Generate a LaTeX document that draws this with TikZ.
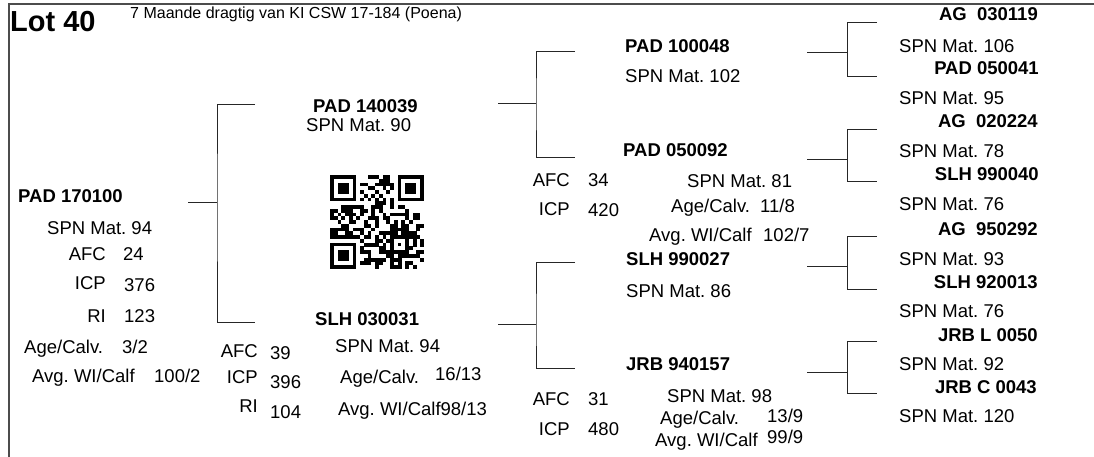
\documentclass[tikz,border=0pt]{standalone}
\usepackage{fontspec}
\setmainfont{Liberation Sans}
\frenchspacing
\begin{document}
\frenchspacing
\begin{tikzpicture}[x=1pt,y=-1pt,
  t/.style={anchor=base west, inner sep=0pt, font=\fontsize{18.5}{20}\selectfont},
  tr/.style={t, anchor=base east},
  tb/.style={t, font=\fontsize{18.5}{20}\selectfont\bfseries},
  tbr/.style={tb, anchor=base east},
  ln/.style={line width=1pt, draw=black!85},
  frame/.style={line width=1.4pt, draw=black!70}]
\useasboundingbox (0,0) rectangle (1094,457);
% frame
\coordinate (fb) at (9,457); \coordinate (fc) at (9,4); \coordinate (fr) at (1094,4);
\draw[frame] (fb) -- (fc) -- (fr);
% header
\node[tb, font=\fontsize{29}{30}\selectfont\bfseries] (lot) at (10,31.5) {Lot 40};
\node[t, font=\fontsize{16}{17}\selectfont] (sub) at (130,19) {7 Maande dragtig van KI CSW 17-184 (Poena)};
% generation 0
\node[tb] (a) at (18,203) {PAD 170100};
\node[t] (a1) at (47,234) {SPN Mat. 94};
\node[tr] (a2) at (106,260) {AFC}; \node[t] (a2v) at (123,260) {24};
\node[tr] (a3) at (106,289) {ICP}; \node[t] (a3v) at (124,291) {376};
\node[tr] (a4) at (106,322) {RI};  \node[t] (a4v) at (124,322) {123};
\node[t] (a5) at (24,353) {Age/Calv.}; \node[t] (a5v) at (122,353) {3/2};
\node[t] (a6) at (32,382) {Avg. WI/Calf}; \node[t] (a6v) at (154,382) {100/2};
% generation 1
\node[tb] (b) at (313,113) {PAD 140039};
\node[t] (b1) at (306,132) {SPN Mat. 90};
\node[tb] (c) at (315,325) {SLH 030031};
\node[t] (c1) at (335,352) {SPN Mat. 94};
\node[tr] (c2) at (258,357) {AFC}; \node[t] (c2v) at (270,359) {39};
\node[tr] (c3) at (258,383) {ICP}; \node[t] (c3v) at (270,388) {396};
\node[tr] (c4) at (258,412) {RI};  \node[t] (c4v) at (270,418) {104};
\node[t] (c5) at (340,383) {Age/Calv.}; \node[t] (c5v) at (435,380) {16/13};
\node[t] (c6) at (338,415) {Avg. WI/Calf98/13};
% QR code
\node[inner sep=0pt, minimum size=94pt] (qr) at (377,222) {};
\begin{scope}[shift={(330,175)}, x=3.76pt, y=-3.76pt]
  \foreach \ox/\oy in {0/0,18/0,0/18}{
    \fill (\ox,\oy) rectangle ++(7,7);
    \fill[white] (\ox+1,\oy+1) rectangle ++(5,5);
    \fill (\ox+2,\oy+2) rectangle ++(3,3);
  }
  \fill (16,16) rectangle (21,21);
  \fill[white] (17,17) rectangle (20,20);
  \fill (18,18) rectangle (19,19);
  \foreach \k in {8,10,...,16}{
    \fill (\k,6) rectangle ++(1,1);
    \fill (6,\k) rectangle ++(1,1);
  }
  \pgfmathsetseed{4711}
  \foreach \i in {0,...,24}{
    \foreach \j in {0,...,24}{
      \pgfmathrandominteger{\r}{0}{1}
      \pgfmathtruncatemacro{\sk}{(\i<8)*(\j<8)+(\i>16)*(\j<8)+(\i<8)*(\j>16)+(\i>15)*(\i<21)*(\j>15)*(\j<21)+(\i==6)+(\j==6)}
      \ifnum\sk=0 \ifnum\r=1 \fill (\i,\j) rectangle ++(1.02,1.02); \fi\fi
    }
  }
\end{scope}
% generation 2
\node[tb] (d) at (625,53) {PAD 100048};
\node[t] (d1) at (625,83) {SPN Mat. 102};
\node[tb] (e) at (623,157) {PAD 050092};
\node[tr] (e2) at (570,186) {AFC}; \node[t] (e2v) at (588,186) {34};
\node[t] (e1) at (687,188) {SPN Mat. 81};
\node[tr] (e3) at (570,215) {ICP}; \node[t] (e3v) at (588,216) {420};
\node[t] (e5) at (671,212) {Age/Calv.}; \node[t] (e5v) at (760,212) {11/8};
\node[t] (e6) at (649,241) {Avg. WI/Calf}; \node[t] (e6v) at (763,241) {102/7};
\node[tb] (f) at (626,265) {SLH 990027};
\node[t] (f1) at (626,297) {SPN Mat. 86};
\node[tb] (g) at (626,370) {JRB 940157};
\node[t] (g1) at (667,402) {SPN Mat. 98};
\node[tr] (g2) at (570,405) {AFC}; \node[t] (g2v) at (588,405) {31};
\node[t] (g5) at (660,424) {Age/Calv.}; \node[t] (g5v) at (767,422) {13/9};
\node[tr] (g3) at (570,435) {ICP}; \node[t] (g3v) at (588,435) {480};
\node[t] (g6) at (655,446) {Avg. WI/Calf}; \node[t] (g6v) at (767,443) {99/9};
% generation 3
\node[tbr] (h1) at (1038,21) {AG\ \ 030119};   \node[t] (h1s) at (899,53) {SPN Mat. 106};
\node[tbr] (h2) at (1039,75) {PAD 050041};    \node[t] (h2s) at (899,105) {SPN Mat. 95};
\node[tbr] (h3) at (1038,128) {AG\ \ 020224};  \node[t] (h3s) at (899,158) {SPN Mat. 78};
\node[tbr] (h4) at (1039,181) {SLH 990040};   \node[t] (h4s) at (899,211) {SPN Mat. 76};
\node[tbr] (h5) at (1038,235) {AG\ \ 950292};  \node[t] (h5s) at (899,265) {SPN Mat. 93};
\node[tbr] (h6) at (1038,288) {SLH 920013};   \node[t] (h6s) at (899,317) {SPN Mat. 76};
\node[tbr] (h7) at (1038,341) {JRB L 0050};   \node[t] (h7s) at (899,370) {SPN Mat. 92};
\node[tbr] (h8) at (1037,393) {JRB C 0043};   \node[t] (h8s) at (899,422) {SPN Mat. 120};
% connectors
\foreach \n/\px/\jx/\ex/\py/\ty/\by in {
   A/188/217/255/202/105/322,
   B/498/536/575/104/52/158,
   C/498/536/575/324/262/368,
   D/807/847/877/53/23/77,
   E/807/847/877/160/130/182,
   F/807/847/877/266/236/289,
   G/807/847/877/372/341/393}{
  \coordinate (p\n) at (\px,\py);
  \coordinate (j\n) at (\jx,\py);
  \coordinate (t\n) at (\ex,\ty);
  \coordinate (b\n) at (\ex,\by);
  \draw[ln] (p\n) -- (j\n);
  \draw[ln] (t\n) -| (j\n) |- (b\n);
}
\end{tikzpicture}
\end{document}
